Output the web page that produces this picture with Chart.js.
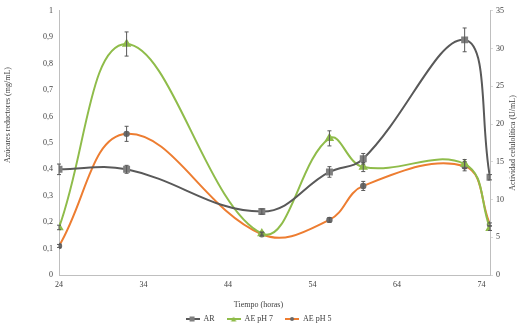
<!DOCTYPE html>
<html><head><meta charset="utf-8">
<script src="https://cdn.jsdelivr.net/npm/chart.js@4"></script>
<style>html,body{margin:0;padding:0;background:#fff;}canvas{display:block;}</style>
</head><body>
<canvas id="c" width="517" height="326"></canvas>
<script>
// Data
const hours = [24, 32, 48, 56, 60, 72, 75];
const xTickValues = [24, 34, 44, 54, 64, 74];
const arValues = [0.40, 0.40, 0.24, 0.39, 0.44, 0.89, 0.37];      // mg/mL (left axis)
const arErrors = [0.02, 0.015, 0.01, 0.02, 0.02, 0.045, 0.01];
const ph7Values = [6.3, 30.6, 5.5, 18.1, 14.3, 14.7, 6.2];        // U/mL (right axis)
const ph7Errors = [0.3, 1.6, 0.2, 1.0, 0.6, 0.6, 0.3];
const ph5Values = [3.85, 18.7, 5.4, 7.3, 11.8, 14.4, 6.7];        // U/mL (right axis)
const ph5Errors = [0.2, 1.0, 0.2, 0.3, 0.6, 0.6, 0.2];
const seriesLabels = ['AR', 'AE pH 7', 'AE pH 5'];
const axisTitles = { x: 'Tiempo (horas)', yL: 'Azúcares reductores (mg/mL)', yR: 'Actividad celulolítica (U/mL)' };

const FONT = "'Liberation Serif', 'DejaVu Serif', serif";
const TXT = '#404040';
const AXIS = '#bfbfbf';
const cAR = '#595959', cAR_pt = '#7f7f7f';
const cG = '#8fbc4a';
const cO = '#ed7d31', cO_pt = '#6a6a6a';

function pts(vals){ return hours.map((h,i)=>({x:h, y:vals[i]})); }

function legendIcon(lineColor, markerColor, shape){
  const cv = document.createElement('canvas'); cv.width = 14; cv.height = 8;
  const g = cv.getContext('2d');
  g.strokeStyle = lineColor; g.lineWidth = 2;
  g.beginPath(); g.moveTo(0,4); g.lineTo(14,4); g.stroke();
  g.fillStyle = markerColor;
  if (shape === 'rect') g.fillRect(4,1.5,5,5);
  else if (shape === 'triangle'){ g.beginPath(); g.moveTo(7,1.5); g.lineTo(9.8,6.5); g.lineTo(4.2,6.5); g.closePath(); g.fill(); }
  else { g.beginPath(); g.arc(7,4,2,0,Math.PI*2); g.fill(); }
  return cv;
}

const errorBarPlugin = {
  id: 'errorBars',
  afterDatasetsDraw(chart){
    const ctx = chart.ctx;
    const xs = chart.scales.x;
    chart.data.datasets.forEach(ds => {
      const ys = chart.scales[ds.yAxisID];
      ctx.save();
      ctx.strokeStyle = '#595959'; ctx.lineWidth = 1;
      ds.data.forEach((p, i) => {
        const e = ds.errors[i];
        const px = xs.getPixelForValue(p.x);
        const top = ys.getPixelForValue(p.y + e), bot = ys.getPixelForValue(p.y - e);
        ctx.beginPath();
        ctx.moveTo(px, top); ctx.lineTo(px, bot);
        ctx.moveTo(px-2, top); ctx.lineTo(px+2, top);
        ctx.moveTo(px-2, bot); ctx.lineTo(px+2, bot);
        ctx.stroke();
      });
      ctx.restore();
    });
  }
};

const axisTitlePlugin = {
  id: 'axisTitles',
  afterDraw(chart){
    const ctx = chart.ctx, ca = chart.chartArea;
    ctx.save();
    ctx.fillStyle = TXT; ctx.font = "8px " + FONT;
    ctx.textAlign = 'center'; ctx.textBaseline = 'middle';
    ctx.fillText(axisTitles.x, chart.width / 2, 305);
    ctx.translate(8, 115); ctx.rotate(-Math.PI/2);
    ctx.fillText(axisTitles.yL, 0, 0);
    ctx.restore();
    ctx.save();
    ctx.fillStyle = TXT; ctx.font = "8px " + FONT;
    ctx.textAlign = 'center'; ctx.textBaseline = 'middle';
    ctx.translate(512.5, (ca.top + ca.bottom)/2); ctx.rotate(-Math.PI/2);
    ctx.fillText(axisTitles.yR, 0, 0);
    ctx.restore();
  }
};

const icons = [legendIcon(cAR, cAR_pt, 'rect'), legendIcon(cG, cG, 'triangle'), legendIcon(cO, cO_pt, 'circle')];

new Chart(document.getElementById('c'), {
  type: 'line',
  data: {
    datasets: [
      { label: seriesLabels[0], data: pts(arValues), errors: arErrors, yAxisID: 'yL',
        borderColor: cAR, backgroundColor: cAR_pt, pointBackgroundColor: cAR_pt, pointBorderColor: cAR_pt,
        pointStyle: 'rect', pointRadius: 3.5, borderWidth: 2, tension: 0.4 },
      { label: seriesLabels[1], data: pts(ph7Values), errors: ph7Errors, yAxisID: 'yR',
        borderColor: cG, backgroundColor: cG, pointBackgroundColor: cG, pointBorderColor: cG,
        pointStyle: 'triangle', pointRadius: 3.5, borderWidth: 2, tension: 0.4 },
      { label: seriesLabels[2], data: pts(ph5Values), errors: ph5Errors, yAxisID: 'yR',
        borderColor: cO, backgroundColor: cO_pt, pointBackgroundColor: cO_pt, pointBorderColor: cO_pt,
        pointStyle: 'circle', pointRadius: 2.2, borderWidth: 2, tension: 0.4 }
    ]
  },
  options: {
    responsive: false, animation: false, devicePixelRatio: 1,
    layout: { padding: { top: 5, left: 0, right: 0, bottom: -7 } },
    plugins: {
      tooltip: { enabled: false },
      legend: {
        position: 'bottom',
        labels: {
          usePointStyle: true, pointStyleWidth: 14, padding: 12, boxHeight: 8, color: TXT,
          font: { family: FONT, size: 8 },
          generateLabels(chart){
            return chart.data.datasets.map((ds, i) => ({
              text: ds.label, pointStyle: icons[i], fillStyle: ds.borderColor,
              strokeStyle: ds.borderColor, lineWidth: 0, hidden: false, datasetIndex: i, fontColor: TXT
            }));
          }
        }
      }
    },
    scales: {
      x: {
        type: 'linear', min: 24, max: 75,
        afterBuildTicks(s){ s.ticks = xTickValues.map(v => ({ value: v })); },
        afterFit(s){ s.height = 28; },
        grid: { display: false, drawTicks: false }, border: { display: true, color: AXIS },
        ticks: { color: TXT, font: { family: FONT, size: 8 }, padding: 5, maxRotation: 0 },
        title: { display: false }
      },
      yL: {
        position: 'left', min: 0, max: 1,
        afterFit(s){ s.width = 59; },
        grid: { display: false, drawTicks: false }, border: { display: true, color: AXIS },
        ticks: { stepSize: 0.1, color: TXT, font: { family: FONT, size: 8 }, padding: 6,
          callback: v => String(Math.round(v*10)/10).replace('.', ',') },
        title: { display: false }
      },
      yR: {
        position: 'right', min: 0, max: 35,
        afterFit(s){ s.width = 27; },
        grid: { display: true, drawOnChartArea: false, drawTicks: true, tickLength: 3, color: '#d9d9d9' },
        border: { display: true, color: AXIS },
        ticks: { stepSize: 5, color: TXT, font: { family: FONT, size: 8 }, padding: 3 },
        title: { display: false }
      }
    }
  },
  plugins: [errorBarPlugin, axisTitlePlugin]
});
</script>
</body></html>
